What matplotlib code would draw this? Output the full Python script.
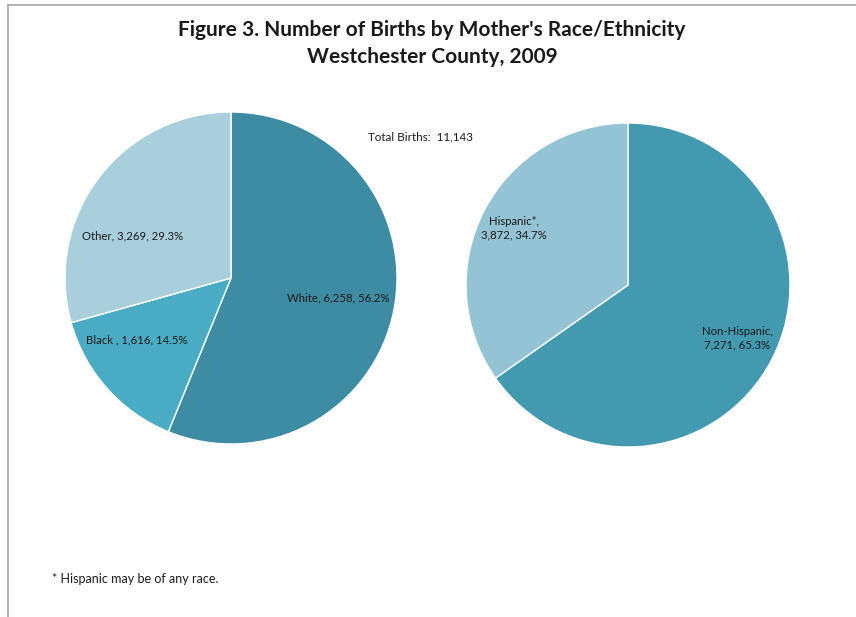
import matplotlib.pyplot as plt

plt.rcParams['font.family'] = ['Lato', 'DejaVu Sans']

race_labels = ["White", "Black ", "Other"]
race_counts = [6258, 1616, 3269]
race_colors = ["#3d8ca3", "#4aabc4", "#a9cfdd"]

eth_labels = ["Non-Hispanic", "Hispanic*"]
eth_counts = [7271, 3872]
eth_colors = ["#4399b0", "#93c3d4"]

total_births = 11143

W, H = 856, 617
fig = plt.figure(figsize=(W / 100, H / 100), dpi=100)
ax = fig.add_axes([0, 0, 1, 1])

wedge = dict(edgecolor="white", linewidth=1.0)

# y axis is inverted below, so counterclock=True draws clockwise on screen
ax.pie(race_counts, colors=race_colors, startangle=-90, counterclock=True,
       center=(231, 278), radius=166, wedgeprops=wedge, frame=True)
ax.pie(eth_counts, colors=eth_colors, startangle=-90, counterclock=True,
       center=(628, 285), radius=162, wedgeprops=wedge, frame=True)
ax.set_xlim(0, W)
ax.set_ylim(H, 0)
ax.set_aspect('equal')
ax.axis('off')

# chart border (left and top visible in the reference)
ax.plot([8, 8], [H, 5], color="#a6a6a6", lw=1.2)
ax.plot([8, W], [5, 5], color="#a6a6a6", lw=1.2)

def lab(name, n, tot):
    return f"{name}, {n:,}, {100 * n / tot:.1f}%"

tot_r = sum(race_counts)
tot_e = sum(eth_counts)
fs = 8.2
tc = "#1a1a1a"
ax.text(338, 298, lab(race_labels[0], race_counts[0], tot_r), ha='center', va='center', fontsize=fs, color=tc)
ax.text(137, 340, lab(race_labels[1], race_counts[1], tot_r), ha='center', va='center', fontsize=fs, color=tc)
ax.text(133, 236, lab(race_labels[2], race_counts[2], tot_r), ha='center', va='center', fontsize=fs, color=tc)

ax.text(737, 338, f"{eth_labels[0]},\n{eth_counts[0]:,}, {100 * eth_counts[0] / tot_e:.1f}%",
        ha='center', va='center', fontsize=fs, color=tc, linespacing=1.3)
ax.text(514, 228, f"{eth_labels[1]},\n{eth_counts[1]:,}, {100 * eth_counts[1] / tot_e:.1f}%",
        ha='center', va='center', fontsize=fs, color=tc, linespacing=1.3)

ax.text(421, 137, f"Total Births:  {total_births:,}", ha='center', va='center', fontsize=8.4, color=tc)

ax.text(432, 30, "Figure 3. Number of Births by Mother's Race/Ethnicity", ha='center', va='center',
        fontsize=15, fontweight='bold', color=tc)
ax.text(432, 57, "Westchester County, 2009", ha='center', va='center',
        fontsize=15, fontweight='bold', color=tc)

ax.text(52, 579, "* Hispanic may be of any race.", ha='left', va='center', fontsize=9, color=tc)

fig.savefig("out.png", dpi=100)
